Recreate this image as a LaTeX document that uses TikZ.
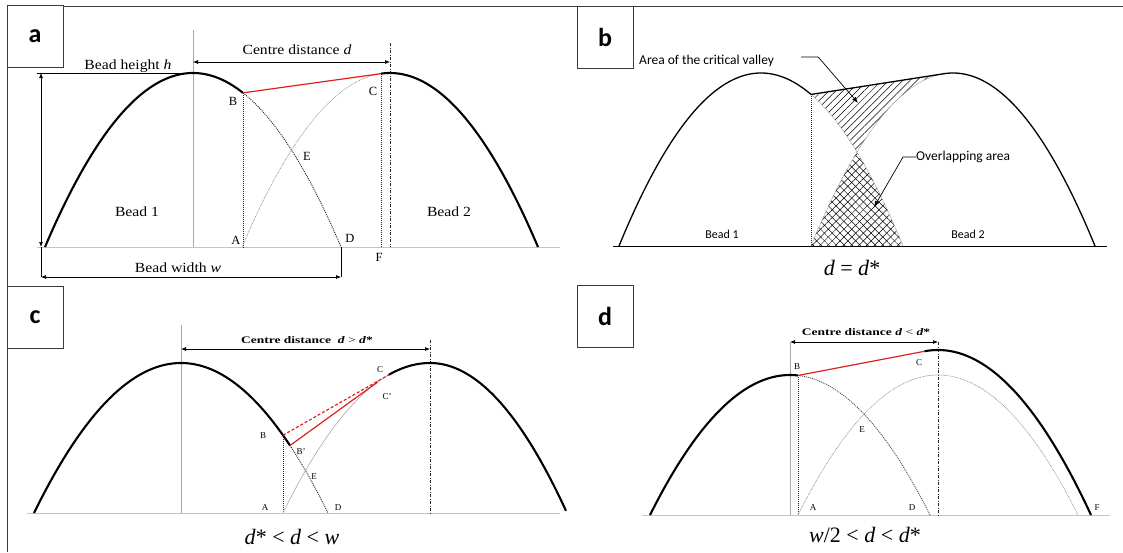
\documentclass[tikz,border=0pt]{standalone}
\usepackage{fontspec}
\setmainfont{Liberation Serif}
\newfontfamily\calfont{Carlito}
\usetikzlibrary{arrows.meta,patterns.meta}
\definecolor{ink}{HTML}{3A3A3A}
\definecolor{rule}{HTML}{C4C4C4}
\definecolor{axisgray}{HTML}{A8A8A8}
\definecolor{beadred}{HTML}{E0201C}

\begin{document}
\begin{tikzpicture}[x=1pt,y=-1pt,>=Latex,
  declare function={bd(\x,\cen,\hwid,\hgt,\bas)=\bas-\hgt*(1-((\x-\cen)/\hwid)^2);},
  bead/.style={line width=2.1pt},
  thinbead/.style={line width=1.3pt},
  ghost/.style={axisgray!85!black,line width=0.6pt,dash pattern=on 0.8pt off 0.7pt},
  drop/.style={black!85,line width=0.9pt,dash pattern=on 1pt off 1pt},
  axisline/.style={axisgray,line width=0.8pt},
  groundline/.style={rule,line width=0.9pt},
  centreline/.style={black!85,line width=0.9pt,dash pattern=on 3pt off 1.5pt on 1pt off 1.5pt},
  dim/.style={<->,line width=0.7pt,>={Latex[length=5pt,width=4pt]}},
  tangentline/.style={beadred,line width=1.2pt},
  lab/.style={font=\fontsize{14}{14}\selectfont,inner sep=0pt,xscale=1.12},
  ptlab/.style={font=\fontsize{12.5}{12}\selectfont,inner sep=0pt},
  smalllab/.style={font=\fontsize{9}{9}\selectfont,inner sep=0pt},
  distlab/.style={font=\bfseries\fontsize{10}{10}\selectfont,inner sep=0pt,xscale=1.35},
  sanslab/.style={font=\calfont\fontsize{13.5}{14}\selectfont,inner sep=0pt},
  beadlab/.style={font=\calfont\fontsize{12}{12}\selectfont,inner sep=0pt},
  caption/.style={font=\fontsize{22}{22}\selectfont,inner sep=0pt},
  panelbox/.style={draw=ink,fill=white,line width=0.8pt,minimum width=56pt,minimum height=62pt,inner sep=0pt,font=\calfont\bfseries\fontsize{26}{26}\selectfont},
  ]
  \useasboundingbox (0,0) rectangle (1123,552);
  \draw[ink,line width=0.8pt] (7,552) -- (7,6) -- (1123,6);

  % panel a
  \coordinate (aB) at (243,{bd(243,193,148,174,247)});
  \coordinate (aC) at (381.2,{bd(381.2,390,148,174,247)});
  \coordinate (aA) at (243,247);
  \coordinate (aF) at (381.2,247);
  \draw[groundline] (37,247) -- (560,247);
  \draw[axisline] (193,30) -- (193,247);
  \draw[centreline] (390,43) -- (390,247);
  \draw[drop] (aB) -- (aA);
  \draw[drop] (aC) -- (aF);
  \draw[drop] plot[domain=243:341,samples=40] (\x,{bd(\x,193,148,174,247)});
  \draw[ghost] plot[domain=242:381.2,samples=50] (\x,{bd(\x,390,148,174,247)});
  \draw[bead] plot[domain=45:243,samples=80] (\x,{bd(\x,193,148,174,247)});
  \draw[bead] plot[domain=381.2:538,samples=80] (\x,{bd(\x,390,148,174,247)});
  \draw[tangentline] (aB) -- (aC);
  \draw[line width=0.7pt] (37,73) -- (193,73);
  \draw[dim] (41,73) -- (41,247);
  \draw[line width=0.7pt] (41,247) -- (41,277) (341,247) -- (341,277);
  \draw[dim] (41,277) -- (341,277);
  \draw[dim] (193,62) -- (390,62);
  \node[lab] (heia) at (128,66) {Bead height \textit{h}};
  \node[lab] (dista) at (297,50) {Centre distance \textit{d}};
  \node[lab] (wida) at (178,268) {Bead width \textit{w}};
  \node[lab] (b1a) at (137,212) {Bead 1};
  \node[lab] (b2a) at (449,212) {Bead 2};
  \node[ptlab] (pBa) at (233,101) {B};
  \node[ptlab] (pCa) at (373,91) {C};
  \node[ptlab] (pEa) at (307,156) {E};
  \node[ptlab] (pAa) at (236,240) {A};
  \node[ptlab] (pDa) at (350,238) {D};
  \node[ptlab] (pFa) at (379,257) {F};
  \node[panelbox] (boxa) at (35,36.5) {a};

  % panel b
  \coordinate (bB) at (811,{bd(811,761,142,173,246)});
  \coordinate (bT) at (943.9,{bd(943.9,953,142,173,246)});
  \coordinate (bA) at (811,246);
  \fill[pattern={Lines[angle=45,distance=5pt,line width=0.5pt]}] (bB) -- (bT)
    -- plot[domain=943.9:857,samples=40] (\x,{bd(\x,953,142,173,246)})
    -- plot[domain=857:811,samples=30] (\x,{bd(\x,761,142,173,246)}) -- cycle;
  \fill[preaction={pattern={Lines[angle=45,distance=5.5pt,line width=0.5pt]}},
    pattern={Lines[angle=-45,distance=5.5pt,line width=0.5pt]}] (bA)
    -- plot[domain=811:857,samples=30] (\x,{bd(\x,953,142,173,246)})
    -- plot[domain=857:903,samples=30] (\x,{bd(\x,761,142,173,246)}) -- cycle;
  \draw[line width=1pt] (613,246) -- (1107,246);
  \draw[drop] (bB) -- (bA);
  \draw[ghost] plot[domain=811:903,samples=40] (\x,{bd(\x,761,142,173,246)});
  \draw[ghost] plot[domain=811:943.9,samples=50] (\x,{bd(\x,953,142,173,246)});
  \draw[thinbead] plot[domain=619:811,samples=80] (\x,{bd(\x,761,142,173,246)});
  \draw[thinbead] (bB) -- (bT);
  \draw[thinbead] plot[domain=943.9:1095,samples=80] (\x,{bd(\x,953,142,173,246)});
  \node[sanslab,anchor=west] (critb) at (639,61) {Area of the critical valley};
  \coordinate (critend) at (858,103);
  \draw[->,line width=0.7pt] ([xshift=27pt,yshift=4pt]critb.east) -- ++(17,0) -- (critend);
  \node[sanslab,anchor=west] (overb) at (916,157) {Overlapping area};
  \coordinate (overend) at (874,207);
  \draw[->,line width=0.7pt] (overb.west) -- ++(-13,0) -- (overend);
  \node[beadlab] (b1b) at (722,234) {Bead 1};
  \node[beadlab] (b2b) at (968,234) {Bead 2};
  \node[caption] (capb) at (852,268) {\textit{d} = \textit{d}*};
  \node[panelbox] (boxb) at (605,37.5) {b};

  % panel c
  \coordinate (cB) at (283,{bd(283,181,147,150,513)});
  \coordinate (cBp) at (290,{bd(290,181,147,150,513)});
  \coordinate (cC) at (388.9,{bd(388.9,430,147,150,513)});
  \coordinate (cCp) at (377.8,{bd(377.8,430,147,150,513)});
  \coordinate (cA) at (283,513);
  \draw[groundline] (27,513) -- (560,513);
  \draw[axisline] (181,325) -- (181,513);
  \draw[centreline] (430,340) -- (430,513);
  \draw[drop] (cB) -- (cA);
  \draw[drop] plot[domain=290:328,samples=30] (\x,{bd(\x,181,147,150,513)});
  \draw[axisline,line width=0.6pt] plot[domain=283:388.9,samples=50] (\x,{bd(\x,430,147,150,513)});
  \draw[bead] plot[domain=34:290,samples=80] (\x,{bd(\x,181,147,150,513)});
  \draw[bead] plot[domain=388.9:430,samples=30] (\x,{bd(\x,430,147,150,513)})
    -- plot[domain=430:566,samples=70] (\x,{bd(\x,430,137,150,513)});
  \draw[tangentline,dash pattern=on 3pt off 2pt] (cB) -- (cC);
  \draw[tangentline] (cBp) -- (cCp);
  \draw[dim] (181,349) -- (430,349);
  \node[distlab] (distc) at (307,340) {Centre distance \ \textit{d} {\mdseries>} \textit{d}*};
  \node[smalllab] (pBc) at (263,436) {B};
  \node[smalllab] (pBpc) at (301,452) {B'};
  \node[smalllab] (pCc) at (380,370) {C};
  \node[smalllab] (pCpc) at (387,397) {C'};
  \node[smalllab] (pEc) at (314,477) {E};
  \node[smalllab] (pAc) at (265,508) {A};
  \node[smalllab] (pDc) at (338,508) {D};
  \node[caption] (capc) at (292,537) {\textit{d}* < \textit{d} < \textit{w}};
  \node[panelbox] (boxc) at (35,317.5) {c};

  % panel d
  \coordinate (dB) at (798,{bd(798,790,140,140,515)});
  \coordinate (dC) at (924.4,{bd(924.4,938,153,165,515)});
  \coordinate (dA) at (798,515);
  \draw[groundline] (642,515) -- (1110,515);
  \draw[axisline] (790,342) -- (790,515);
  \draw[centreline] (938,342) -- (938,515);
  \draw[drop] (dB) -- (dA);
  \draw[drop,black!70] plot[domain=798:930,samples=50] (\x,{bd(\x,790,140,140,515)});
  \draw[ghost] plot[domain=798:1078,samples=80] (\x,{bd(\x,938,140,140,515)});
  \draw[bead] plot[domain=650:798,samples=60] (\x,{bd(\x,790,140,140,515)});
  \draw[bead] plot[domain=924.4:1091,samples=80] (\x,{bd(\x,938,153,165,515)});
  \draw[tangentline] (dB) -- (dC);
  \draw[dim] (790,342) -- (938,342);
  \node[distlab] (distd) at (866,332) {Centre distance \textit{d} {\mdseries<} \textit{d}*};
  \node[smalllab] (pBd) at (797,367) {B};
  \node[smalllab] (pCd) at (919,363) {C};
  \node[smalllab] (pEd) at (862,430) {E};
  \node[smalllab] (pAd) at (813,508) {A};
  \node[smalllab] (pDd) at (912,508) {D};
  \node[smalllab] (pFd) at (1097,508) {F};
  \node[caption] (capd) at (865,535) {\textit{w}/2 < \textit{d} < \textit{d}*};
  \node[panelbox] (boxd) at (605,316.5) {d};
\end{tikzpicture}
\end{document}
